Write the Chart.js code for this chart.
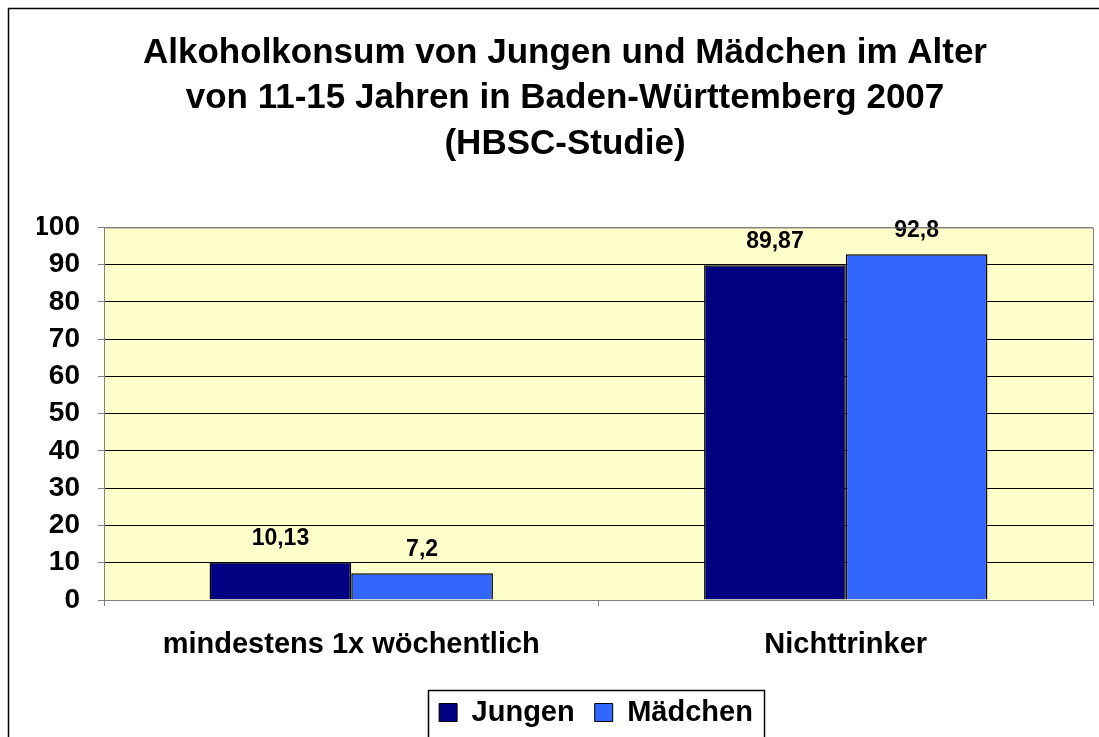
<!DOCTYPE html>
<html>
<head>
<meta charset="utf-8">
<script src="https://cdn.jsdelivr.net/npm/chart.js@4/dist/chart.umd.min.js"></script>
<style>
  html, body { margin: 0; padding: 0; background: #ffffff; }
  #wrap { width: 1099px; height: 737px; position: relative; }
</style>
</head>
<body>
<div id="wrap"><canvas id="c" width="1099" height="737"></canvas></div>
<script>
const titleLines = [
  'Alkoholkonsum von Jungen und Mädchen im Alter',
  'von 11-15 Jahren in Baden-Württemberg 2007',
  '(HBSC-Studie)'
];
const categories = ['mindestens 1x wöchentlich', 'Nichttrinker'];
const seriesNames = ['Jungen', 'Mädchen'];
const jungenValues = [10.13, 89.87];
const maedchenValues = [7.2, 92.8];
const valueLabelsJungen = ['10,13', '89,87'];
const valueLabelsMaedchen = ['7,2', '92,8'];

const FONT = "'Liberation Sans', Arial, Helvetica, sans-serif";

const plotBgPlugin = {
  id: 'plotBg',
  beforeDraw(chart) {
    const { ctx, chartArea: a } = chart;
    ctx.save();
    ctx.fillStyle = '#FFFFCC';
    ctx.fillRect(a.left, a.top, a.right - a.left, a.bottom - a.top);
    ctx.restore();
  },
  afterDraw(chart) {
    const { ctx, chartArea: a } = chart;
    ctx.save();
    ctx.strokeStyle = '#808080';
    ctx.lineWidth = 1;
    ctx.beginPath();
    ctx.moveTo(a.left, a.top + 0.5);
    ctx.lineTo(a.right + 0.5, a.top + 0.5);
    ctx.lineTo(a.right + 0.5, a.bottom);
    ctx.stroke();
    // outer chart border
    ctx.strokeStyle = '#000000';
    ctx.lineWidth = 1.5;
    ctx.strokeRect(8.5, 8.5, 1200, 900);
    // legend frame
    const lg = chart.legend;
    if (lg && lg.legendHitBoxes && lg.legendHitBoxes.length) {
      const hb = lg.legendHitBoxes;
      let l = Infinity, r = -Infinity, t = Infinity;
      hb.forEach(b => { l = Math.min(l, b.left); r = Math.max(r, b.left + b.width); t = Math.min(t, b.top); });
      ctx.strokeStyle = '#000000';
      ctx.lineWidth = 1.5;
      ctx.strokeRect(Math.round(l - 11) + 0.5, Math.round(t - 8) + 0.5, Math.round(r - l + 22), 80);
    }
    ctx.restore();
  }
};

const legendShiftPlugin = {
  id: 'legendShift',
  afterLayout(chart) {
    const lg = chart.legend;
    if (lg) { lg.left += 31; lg.right += 31; }
  }
};

const valueLabelPlugin = {
  id: 'valueLabels',
  afterDatasetsDraw(chart) {
    const { ctx } = chart;
    const labelSets = [valueLabelsJungen, valueLabelsMaedchen];
    ctx.save();
    ctx.font = 'bold 23px ' + FONT;
    ctx.fillStyle = '#000000';
    ctx.textAlign = 'center';
    ctx.textBaseline = 'alphabetic';
    chart.data.datasets.forEach((ds, di) => {
      const meta = chart.getDatasetMeta(di);
      meta.data.forEach((bar, i) => {
        ctx.fillText(labelSets[di][i], bar.x, bar.y - 17);
      });
    });
    ctx.restore();
  }
};

new Chart(document.getElementById('c'), {
  type: 'bar',
  data: {
    labels: categories,
    datasets: [
      { label: seriesNames[0], data: jungenValues, backgroundColor: '#000080', borderColor: '#000000', borderWidth: 1.5 },
      { label: seriesNames[1], data: maedchenValues, backgroundColor: '#3366FF', borderColor: '#000000', borderWidth: 1.5 }
    ]
  },
  options: {
    responsive: false,
    animation: false,
    categoryPercentage: 0.573,
    barPercentage: 1.0,
    layout: { padding: { left: 37, right: 6, top: 0, bottom: 0 } },
    plugins: {
      title: {
        display: true,
        text: titleLines,
        color: '#000000',
        font: { family: FONT, size: 35, weight: 'bold', lineHeight: 1.29 },
        padding: { top: 31, bottom: 61 }
      },
      legend: {
        display: true,
        position: 'bottom',
        labels: {
          color: '#000000',
          font: { family: FONT, size: 29, weight: 'bold' },
          boxWidth: 18,
          boxHeight: 18,
          padding: 20,
          generateLabels(chart) {
            return chart.data.datasets.map((ds, i) => ({
              text: ds.label,
              fillStyle: ds.backgroundColor,
              strokeStyle: '#000000',
              lineWidth: 1,
              hidden: false,
              datasetIndex: i,
              fontColor: '#000000'
            }));
          }
        }
      },
      tooltip: { enabled: false }
    },
    scales: {
      x: {
        grid: { display: true, drawOnChartArea: false, drawTicks: true, tickLength: 6, offset: true, color: '#808080' },
        border: { display: true, color: '#808080' },
        ticks: { color: '#000000', font: { family: FONT, size: 29, weight: 'bold' }, padding: 22, maxRotation: 0 },
        afterFit(scale) { scale.height = 78; }
      },
      y: {
        min: 0,
        max: 100,
        ticks: { stepSize: 10, color: '#000000', font: { family: FONT, size: 28, weight: 'bold' }, padding: 18 },
        grid: {
          color: ctx => (ctx.tick && (ctx.tick.value === 100 || ctx.tick.value === 0)) ? '#808080' : '#000000',
          tickColor: '#808080',
          tickLength: 6,
          lineWidth: 1
        },
        border: { display: true, color: '#808080' },
        afterFit(scale) { scale.width = 67; }
      }
    }
  },
  plugins: [plotBgPlugin, legendShiftPlugin, valueLabelPlugin]
});
</script>
</body>
</html>
